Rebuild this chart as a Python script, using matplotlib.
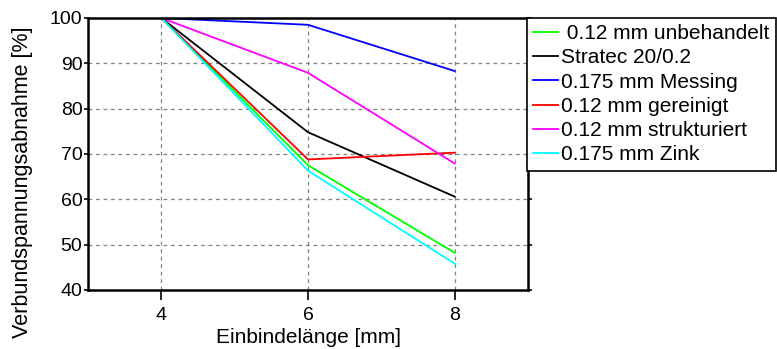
import matplotlib
matplotlib.use("Agg")
import matplotlib.pyplot as plt

plt.rcParams['font.family'] = ['Liberation Sans', 'DejaVu Sans']

# Daten
laengen = [4, 6, 8]
unbehandelt = [100, 67.5, 48.2]
stratec = [100, 74.8, 60.6]
messing = [100, 98.5, 88.3]
gereinigt = [100, 68.8, 70.3]
strukturiert = [100, 87.9, 67.9]
zink = [100, 66.3, 45.8]

namen = [" 0.12 mm unbehandelt", "Stratec 20/0.2", "0.175 mm Messing",
         "0.12 mm gereinigt", "0.12 mm strukturiert", "0.175 mm Zink"]
farben = ["#00ff00", "#000000", "#0000ff", "#ff0000", "#ff00ff", "#00ffff"]
reihen = [unbehandelt, stratec, messing, gereinigt, strukturiert, zink]

fig = plt.figure(figsize=(7.77, 3.49), dpi=100)
ax = fig.add_axes([88 / 777, 1 - 290 / 349, 440 / 777, 272 / 349])

for werte, farbe, name in zip(reihen, farben, namen):
    ax.plot(laengen, werte, color=farbe, linewidth=1.3, label=name)

ax.set_xlim(3, 9)
ax.set_ylim(40, 100)
ax.set_xticks([4, 6, 8])
ax.set_yticks(range(40, 101, 10))
ax.grid(True, color="#808080", linestyle=(0, (3, 3)), linewidth=0.9)

for s in ax.spines.values():
    s.set_linewidth(1.8)

ax.tick_params(axis="y", which="both", direction="out", length=3, width=1.2,
               labelsize=14, pad=1, right=True)
ax.tick_params(axis="x", direction="out", length=7, width=1.2, labelsize=14, pad=5)

ax.set_xlabel("Einbindelänge [mm]", fontsize=15, labelpad=3)
ax.set_ylabel("Verbundspannungsabnahme [%]", fontsize=15.5)
ax.yaxis.set_label_coords(-0.125, 0.397)

leg = fig.legend(loc="upper left", bbox_to_anchor=(527 / 777, 1 - 18 / 349),
                 borderaxespad=0, fontsize=15, handlelength=1.2,
                 handletextpad=0.15, labelspacing=0.25, borderpad=0.3,
                 fancybox=False, edgecolor="black", framealpha=1)
leg.get_frame().set_linewidth(1.2)

fig.savefig("out.png", dpi=100)
